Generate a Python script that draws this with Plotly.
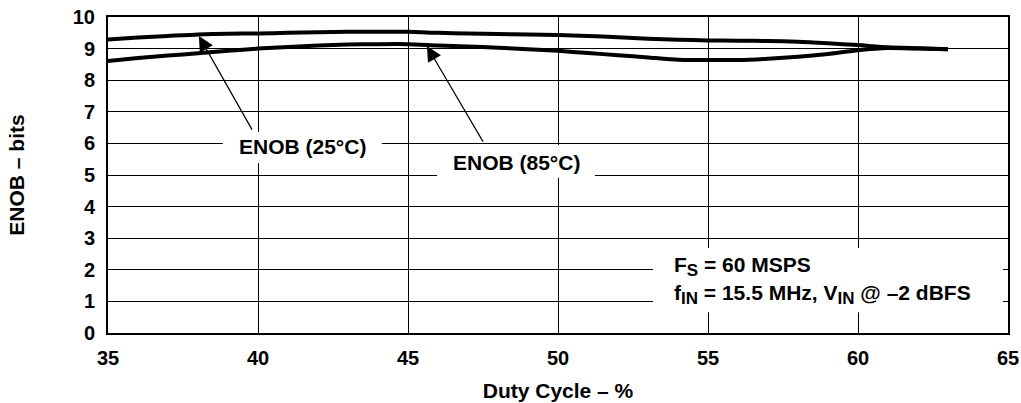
import plotly.graph_objects as go

# ---- data ----
duty_cycle = [35, 36, 37, 38, 39, 40, 41, 42, 43, 44, 45, 46, 47, 48, 49,
              50, 51, 52, 53, 54, 55, 56, 57, 58, 59, 60, 61, 62, 63]
enob_25c = [9.29, 9.35, 9.40, 9.45, 9.47, 9.48, 9.50, 9.52, 9.53, 9.53, 9.53,
            9.50, 9.48, 9.46, 9.45, 9.43, 9.40, 9.36, 9.31, 9.28, 9.26, 9.25,
            9.24, 9.22, 9.17, 9.11, 9.04, 9.01, 8.98]
enob_85c = [8.61, 8.70, 8.78, 8.85, 8.93, 9.00, 9.05, 9.10, 9.13, 9.14, 9.14,
            9.10, 9.07, 9.03, 8.98, 8.93, 8.86, 8.79, 8.72, 8.65, 8.64, 8.64,
            8.68, 8.74, 8.83, 8.95, 9.02, 9.00, 8.98]
x_ticks = [35, 40, 45, 50, 55, 60, 65]
y_ticks = [0, 1, 2, 3, 4, 5, 6, 7, 8, 9, 10]

FONT = "Liberation Sans, Arial, sans-serif"
FS = 20
FA = 21

fig = go.Figure()
for name, ys in [("ENOB (25°C)", enob_25c), ("ENOB (85°C)", enob_85c)]:
    fig.add_trace(go.Scatter(x=duty_cycle, y=ys, mode="lines", name=name,
                             line=dict(color="black", width=4, shape="spline", smoothing=0.6),
                             showlegend=False, hoverinfo="x+y"))

axis_common = dict(showgrid=True, gridcolor="black", gridwidth=1.2,
                   showline=True, linecolor="black", linewidth=2, mirror=True,
                   ticks="", zeroline=False, automargin=False,
                   tickfont=dict(family=FONT, size=FS, color="black", weight="bold"))

fig.update_xaxes(range=[35, 65], tickvals=x_ticks, ticklabelstandoff=6,
                 title=dict(text="Duty Cycle – %", standoff=15,
                            font=dict(family=FONT, size=FA, color="black", weight="bold")),
                 **axis_common)
fig.update_yaxes(range=[0, 10], tickvals=y_ticks, ticklabelstandoff=7,
                 title=dict(text="ENOB – bits", standoff=42,
                            font=dict(family=FONT, size=FA, color="black", weight="bold")),
                 **axis_common)

# white label boxes
for x0, x1, y0, y1 in [(38.83, 44.13, 5.38, 6.36), (45.97, 51.23, 4.91, 5.95),
                       (53.17, 64.83, 0.66, 2.69)]:
    fig.add_shape(type="rect", xref="x", yref="y", x0=x0, x1=x1, y0=y0, y1=y1,
                  fillcolor="white", line=dict(width=0), layer="above")

afont = dict(family=FONT, size=FA, color="black", weight="bold")
# arrows
fig.add_annotation(x=38.03, y=9.40, ax=39.83, ay=6.39, axref="x", ayref="y",
                   xref="x", yref="y", text="", showarrow=True, arrowhead=2,
                   arrowsize=2.5, arrowwidth=1.2, arrowcolor="black")
fig.add_annotation(x=45.63, y=9.08, ax=47.53, ay=6.01, axref="x", ayref="y",
                   xref="x", yref="y", text="", showarrow=True, arrowhead=2,
                   arrowsize=2.5, arrowwidth=1.2, arrowcolor="black")
# labels
fig.add_annotation(x=41.47, y=5.89, xref="x", yref="y", text="ENOB (25°C)",
                   showarrow=False, font=afont)
fig.add_annotation(x=48.6, y=5.41, xref="x", yref="y", text="ENOB (85°C)",
                   showarrow=False, font=afont)
SUB = '<sub><span style="font-size:17px">{}</span></sub>'
fig.add_annotation(x=53.8, y=2.12, xref="x", yref="y", xanchor="left",
                   text="F" + SUB.format("S") + " = 60 MSPS", showarrow=False, font=afont)
fig.add_annotation(x=53.8, y=1.22, xref="x", yref="y", xanchor="left",
                   text="f" + SUB.format("IN") + " = 15.5 MHz, V" + SUB.format("IN")
                   + " @ –2 dBFS",
                   showarrow=False, font=afont)

fig.update_layout(width=1021, height=403, margin=dict(l=108, r=13, t=17, b=70),
                  plot_bgcolor="white", paper_bgcolor="white",
                  font=dict(family=FONT, color="black", weight="bold"))

fig.write_html("out.html", config={"displayModeBar": False},
               post_script="document.body.style.margin='0px';document.body.style.overflow='hidden';")
